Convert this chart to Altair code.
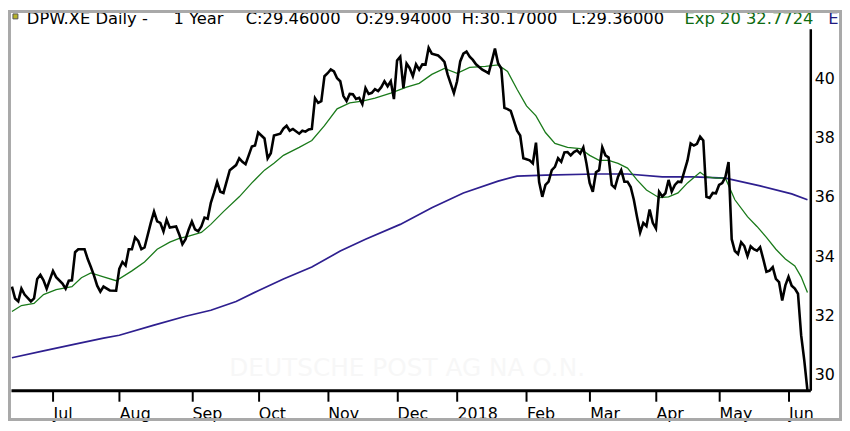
import altair as alt
import pandas as pd

# ---------------- trading calendar (Xetra sessions) ----------------
HOLIDAYS = ["2017-12-25", "2017-12-26", "2018-01-01", "2018-03-30", "2018-04-02", "2018-05-01"]
sessions = pd.bdate_range("2017-06-14", "2018-06-11")
sessions = sessions[~sessions.isin(pd.to_datetime(HOLIDAYS))]

# ---------------- data ----------------
close_session = [0, 1, 2, 3, 4, 6, 7, 8, 9, 10, 11, 13, 14, 16, 17, 18, 19, 20, 21, 23,
                 24, 25, 26, 27, 28, 29, 31, 33, 34, 35, 36, 37, 38, 39, 40, 41, 42, 44, 45, 46,
                 47, 48, 49, 50, 52, 53, 54, 55, 56, 57, 58, 59, 60, 61, 62, 63, 64, 65, 66, 67,
                 69, 71, 72, 73, 74, 75, 76, 77, 78, 80, 81, 82, 83, 85, 86, 87, 88, 89, 91, 92,
                 93, 94, 95, 96, 97, 98, 99, 100, 101, 102, 103, 104, 105, 106, 107, 108, 109, 110, 111, 112,
                 113, 114, 115, 116, 117, 118, 119, 120, 121, 122, 123, 124, 125, 126, 127, 128, 129, 130, 131, 132,
                 133, 135, 136, 137, 138, 140, 141, 142, 143, 144, 145, 146, 147, 149, 150, 151, 152, 153, 154, 155,
                 156, 157, 158, 159, 160, 161, 162, 163, 164, 165, 166, 167, 168, 169, 170, 171, 172, 173, 174, 175,
                 176, 177, 178, 179, 180, 181, 182, 183, 184, 185, 186, 187, 188, 189, 190, 191, 192, 193, 194, 195,
                 196, 197, 198, 199, 200, 201, 202, 203, 204, 205, 206, 207, 208, 209, 210, 211, 212, 214, 215, 216,
                 217, 218, 219, 220, 221, 222, 223, 224, 225, 226, 227, 228, 229, 230, 231, 232, 233, 234, 235, 236,
                 237, 238, 239, 240, 241, 242, 243, 244, 245, 246, 247, 248, 249, 250, 251, 252]
close_value = [32.97, 32.57, 32.47, 32.90, 32.70, 32.47, 32.57, 33.23, 33.37, 33.18, 32.90, 33.50, 33.29, 33.07, 32.90, 33.17, 33.18, 34.13, 34.23, 34.23,
               33.90, 33.63, 33.34, 33.00, 32.80, 32.97, 32.84, 32.83, 33.57, 33.80, 33.68, 34.23, 34.23, 34.63, 34.51, 34.23, 34.29, 35.13, 35.50, 35.17,
               35.12, 34.83, 35.23, 34.96, 35.00, 34.73, 34.40, 34.57, 34.90, 35.17, 34.90, 34.84, 35.00, 35.30, 35.26, 35.80, 36.13, 36.50, 36.17, 36.13,
               36.90, 37.07, 37.30, 37.18, 37.10, 37.40, 37.70, 37.73, 38.17, 37.97, 37.30, 37.47, 38.07, 38.13, 38.30, 38.40, 38.23, 38.29, 38.13, 38.23,
               38.20, 38.27, 38.29, 39.33, 39.17, 39.23, 40.07, 40.17, 40.30, 40.23, 40.00, 39.90, 39.40, 39.23, 39.47, 39.46, 39.30, 39.34, 39.13, 39.67,
               39.47, 39.51, 39.63, 39.57, 39.70, 39.90, 39.73, 39.90, 39.30, 40.60, 40.73, 39.67, 40.50, 40.34, 40.07, 40.47, 40.29, 40.47, 40.46, 41.03,
               40.83, 40.77, 40.67, 40.55, 40.13, 39.50, 39.90, 40.57, 40.83, 40.90, 40.73, 40.62, 40.47, 40.29, 40.23, 40.17, 40.57, 41.00, 40.51, 40.33,
               39.00, 38.96, 38.90, 38.57, 38.23, 38.07, 37.30, 37.27, 37.23, 37.13, 37.83, 36.50, 36.00, 36.40, 36.51, 36.90, 37.01, 37.30, 37.18, 37.50,
               37.51, 37.40, 37.51, 37.57, 37.46, 37.67, 37.12, 36.47, 36.17, 36.83, 36.90, 37.67, 37.40, 37.33, 36.40, 36.30, 36.68, 36.90, 36.51, 36.51,
               36.33, 35.90, 35.33, 34.80, 35.12, 35.01, 35.57, 35.12, 34.93, 36.17, 36.01, 36.12, 36.57, 36.18, 36.40, 36.51, 36.50, 37.23, 37.80, 37.73,
               37.79, 38.03, 37.90, 36.00, 35.96, 36.13, 36.12, 36.40, 36.46, 36.67, 37.17, 34.57, 34.17, 34.07, 34.47, 34.34, 34.00, 34.33, 34.23, 34.18,
               34.30, 33.90, 33.47, 33.51, 33.63, 33.23, 33.12, 32.50, 33.01, 33.30, 33.00, 32.90, 32.73, 31.33, 30.47, 29.46]

ema_session = [0, 3, 7, 10, 14, 19, 22, 25, 29, 33, 38, 42, 46, 50, 53, 56, 60, 63, 67, 72,
               76, 80, 83, 86, 91, 95, 99, 103, 107, 111, 115, 120, 125, 129, 133, 137, 141, 145, 150, 154,
               157, 160, 163, 166, 169, 172, 176, 180, 183, 186, 189, 192, 195, 198, 201, 205, 208, 211, 214, 218,
               220, 223, 226, 229, 233, 236, 239, 242, 245, 248, 250, 252]
ema_value = [32.13, 32.33, 32.40, 32.70, 32.87, 32.97, 33.27, 33.43, 33.30, 33.17, 33.50, 33.80, 34.23, 34.47, 34.60, 34.67, 34.80, 35.07, 35.50, 36.00,
             36.47, 36.90, 37.13, 37.40, 37.67, 37.90, 38.40, 38.97, 39.17, 39.23, 39.33, 39.50, 39.70, 39.83, 40.13, 40.33, 40.17, 40.37, 40.40, 40.45,
             40.23, 39.63, 39.07, 38.73, 38.17, 37.80, 37.67, 37.63, 37.40, 37.23, 37.23, 37.13, 36.97, 36.57, 36.23, 35.97, 36.00, 36.13, 36.47, 36.83,
             36.67, 36.63, 36.63, 35.90, 35.33, 35.00, 34.63, 34.23, 33.90, 33.67, 33.30, 32.77]

ma_session = [0, 10, 20, 29, 34, 45, 55, 63, 71, 78, 86, 95, 104, 112, 123, 133, 143, 154, 160, 169,
              185, 195, 206, 216, 226, 237, 247, 252]
ma_value = [30.57, 30.80, 31.03, 31.23, 31.33, 31.67, 31.97, 32.17, 32.47, 32.83, 33.23, 33.63, 34.17, 34.57, 35.07, 35.63, 36.13, 36.53, 36.70, 36.73,
            36.77, 36.77, 36.67, 36.67, 36.63, 36.37, 36.10, 35.90]

title_parts = ["DPW.XE Daily -", "1 Year", "C:29.46000", "O:29.94000", "H:30.17000", "L:29.36000"]
exp_parts = ["Exp 20", "32.7724"]
watermark = "DEUTSCHE POST AG NA O.N."
y_ticks = [30, 32, 34, 36, 38, 40]

# ---------------- month ticks from the calendar ----------------
tick_vals, tick_labels = [], []
prev = None
for i, d in enumerate(sessions):
    key = (d.year, d.month)
    if prev is not None and key != prev:
        tick_vals.append(i)
        tick_labels.append(str(d.year) if d.month == 1 else d.strftime("%b"))
    prev = key
label_expr = " : ".join(f"datum.value == {v} ? '{l}'" for v, l in zip(tick_vals, tick_labels)) + " : ''"

FONT = "DejaVu Sans"
W, H = 807, 365
xs = alt.Scale(domain=[-0.31, 252.9], nice=False, zero=False)
ys = alt.Scale(domain=[29.47, 41.67], nice=False, zero=False)
xaxis = alt.Axis(values=tick_vals, labelExpr=label_expr, title="", grid=False,
                 domainColor="black", domainWidth=3, tickColor="black", tickWidth=2, tickSize=11,
                 labelAlign="left", labelBaseline="top", labelPadding=4, labelFont=FONT,
                 labelFontSize=16, labelColor="black", labelOverlap=False, labelFlush=False)
yaxis = alt.Axis(orient="right", values=y_ticks, title="", grid=False, domainColor="black",
                 domainWidth=2.5, ticks=False, tickSize=0, labelPadding=4, labelFont=FONT,
                 labelFontSize=16, labelColor="black")


def series(sess, vals, color, width):
    df = pd.DataFrame({"session": sess, "value": vals})
    return alt.Chart(df).mark_line(color=color, strokeWidth=width).encode(
        x=alt.X("session:Q", scale=xs, axis=xaxis),
        y=alt.Y("value:Q", scale=ys, axis=yaxis),
    )


one = alt.Data(values=[{}])


def label(txt, px, color="black", size=16.5):
    return alt.Chart(one).mark_text(text=txt, align="left", baseline="middle", font=FONT,
                                    fontSize=size, color=color).encode(
        x=alt.value(px), y=alt.value(-10))


wm = alt.Chart(one).mark_text(text=watermark, align="center", baseline="middle", font=FONT,
                              fontSize=25, color="#f7f7f7").encode(x=alt.value(400), y=alt.value(343))

layers = [wm,
          series(ma_session, ma_value, "#2e1f8f", 1.7),
          series(ema_session, ema_value, "#1a7a1a", 1.3),
          series(close_session, close_value, "black", 2.6)]

title_x = [16, 164, 237, 348, 455, 566]
for t, px in zip(title_parts, title_x):
    layers.append(label(t, px))
layers.append(label(exp_parts[0], 680, "#0d6b10"))
layers.append(label(exp_parts[1], 742, "#0d6b10"))
layers.append(label("E", 825, "#1f1a80"))

icon = alt.Chart(one).mark_rect(fill="#b8b428", stroke="#555555", strokeWidth=1).encode(
    x=alt.value(2), x2=alt.value(7), y=alt.value(-15), y2=alt.value(-10))
frame = alt.Chart(one).mark_rect(fillOpacity=0, stroke="#a9a9a9", strokeWidth=3).encode(
    x=alt.value(-1.5), x2=alt.value(837.5), y=alt.value(-17.5), y2=alt.value(394.5))
layers += [icon, frame]

chart = alt.layer(*layers).properties(
    width=W, height=H,
    padding={"left": 3, "top": 19, "right": 32, "bottom": 31},
    autosize=alt.AutoSizeParams(type="none"),
    background="white",
).configure_view(strokeWidth=0)

chart.save("out.html", embed_options={"renderer": "svg", "actions": False})
